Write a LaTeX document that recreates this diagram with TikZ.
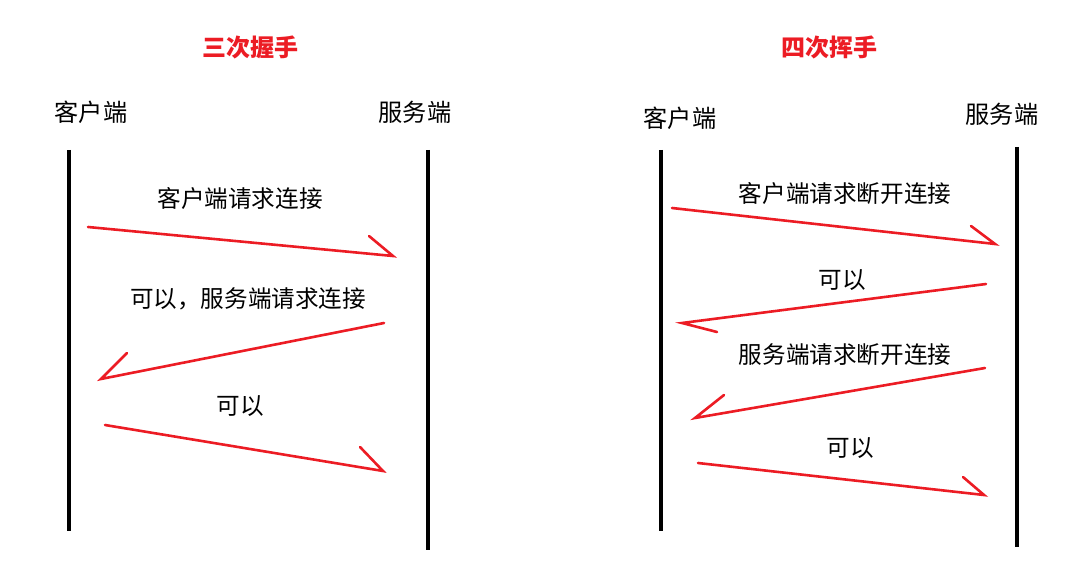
\documentclass[tikz,border=0pt]{standalone}
\usepackage{fontspec}
\newfontfamily\cjk{Noto Sans CJK SC}
\definecolor{arrred}{RGB}{236,28,36}
\begin{document}
\begin{tikzpicture}[x=1pt,y=-1pt,
  lifeline/.style={line width=4pt,black},
  msg/.style={line width=2.6pt,arrred,line cap=round},
  lbl/.style={font=\cjk\fontsize{23.6}{26}\selectfont,inner sep=0pt,text=black},
  hdr/.style={font=\cjk\fontsize{24.2}{27}\selectfont,inner sep=0pt,text=black},
  ttl/.style={font=\cjk\bfseries\fontsize{24}{28}\selectfont,inner sep=0pt,text=arrred}]
\useasboundingbox (0,0) rectangle (1087,564);
% titles
\node[ttl] (t1) at (250,47) {三次握手};
\node[ttl] (t2) at (829,47) {四次挥手};
% headers
\node[hdr] (c1) at (91,112) {客户端};
\node[hdr] (s1) at (415,112) {服务端};
\node[hdr] (c2) at (680,118) {客户端};
\node[hdr] (s2) at (1002,114) {服务端};
% lifelines
\coordinate (c1t) at (69,150); \coordinate (c1b) at (69,531);
\coordinate (s1t) at (428,150); \coordinate (s1b) at (428,550);
\coordinate (c2t) at (661,150); \coordinate (c2b) at (661,531);
\coordinate (s2t) at (1017,147); \coordinate (s2b) at (1017,547);
\draw[lifeline] (c1t) -- (c1b);
\draw[lifeline] (s1t) -- (s1b);
\draw[lifeline] (c2t) -- (c2b);
\draw[lifeline] (s2t) -- (s2b);
% left messages
\coordinate (a1s) at (88,227); \coordinate (a1e) at (393,256); \coordinate (a1b) at (369,236);
\draw[msg] (a1s) -- (a1e) -- (a1b);
\node[lbl] (l1) at (240,198) {客户端请求连接};
\coordinate (a2s) at (384,323); \coordinate (a2e) at (101,379); \coordinate (a2b) at (127,353);
\draw[msg] (a2s) -- (a2e) -- (a2b);
\node[lbl] (l2) at (248,299) {可以，服务端请求连接};
\coordinate (a3s) at (105,425); \coordinate (a3e) at (383,471); \coordinate (a3b) at (360,447);
\draw[msg] (a3s) -- (a3e) -- (a3b);
\node[lbl] (l3) at (240,406) {可以};
% right messages
\coordinate (b1s) at (672,208); \coordinate (b1e) at (995,244); \coordinate (b1b) at (971,226);
\draw[msg] (b1s) -- (b1e) -- (b1b);
\node[lbl] (m1) at (845,193) {客户端请求断开连接};
\coordinate (b2s) at (986,284); \coordinate (b2e) at (682,323); \coordinate (b2b) at (717,332);
\draw[msg] (b2s) -- (b2e) -- (b2b);
\node[lbl] (m2) at (842,280) {可以};
\coordinate (b3s) at (985,368); \coordinate (b3e) at (695,418); \coordinate (b3b) at (724,395);
\draw[msg] (b3s) -- (b3e) -- (b3b);
\node[lbl] (m3) at (845,355) {服务端请求断开连接};
\coordinate (b4s) at (698,463); \coordinate (b4e) at (984,495); \coordinate (b4b) at (963,477);
\draw[msg] (b4s) -- (b4e) -- (b4b);
\node[lbl] (m4) at (850,448) {可以};
\end{tikzpicture}
\end{document}
